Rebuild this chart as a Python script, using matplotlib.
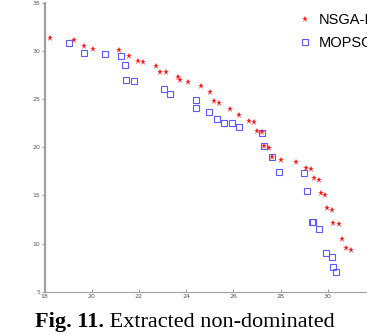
"""Extracted non-dominated fronts: NSGA-II vs MOPSO (Fig. 11)."""
import matplotlib
matplotlib.use("Agg")
import matplotlib.pyplot as plt

# NSGA-II front (red stars)
nsga_x = [18.23, 19.25, 19.67, 20.04, 21.17, 21.57, 21.97, 22.19, 22.72, 22.91,
          23.14, 23.67, 23.73, 24.08, 24.63, 25.03, 25.19, 25.38, 25.87, 26.25,
          26.68, 26.88, 27.02, 27.22, 27.30, 27.50, 27.63, 28.03, 28.67, 29.08,
          29.28, 29.41, 29.62, 29.72, 29.90, 29.98, 30.18, 30.24, 30.47, 30.60,
          30.78, 30.97]
nsga_y = [31.35, 31.14, 30.58, 30.24, 30.17, 29.54, 28.99, 28.84, 28.47, 27.88,
          27.88, 27.36, 27.02, 26.76, 26.36, 25.72, 24.83, 24.66, 23.95, 23.36,
          22.78, 22.60, 21.75, 21.56, 20.16, 19.92, 19.01, 18.70, 18.49, 17.90,
          17.73, 16.80, 16.59, 15.30, 15.09, 13.68, 13.50, 12.12, 12.02, 10.51,
          9.52, 9.34]

# MOPSO front (blue squares)
mopso_x = [19.05, 19.69, 20.56, 21.22, 21.39, 21.47, 21.81, 23.06, 23.31, 24.41,
           24.42, 24.98, 25.32, 25.61, 25.93, 26.25, 27.22, 27.30, 27.63, 27.92,
           29.01, 29.11, 29.35, 29.38, 29.64, 29.94, 30.18, 30.21, 30.33]
mopso_y = [30.86, 29.85, 29.74, 29.51, 28.58, 27.02, 26.88, 26.05, 25.56, 24.94,
           24.05, 23.66, 22.91, 22.58, 22.58, 22.16, 21.54, 20.16, 19.01, 17.48,
           17.38, 15.46, 12.28, 12.20, 11.50, 9.06, 8.59, 7.55, 7.06]

x_ticks = [18, 20, 22, 24, 26, 28, 30]
y_ticks = [5, 10, 15, 20, 25, 30, 35]

fig = plt.figure(figsize=(3.67, 3.35), dpi=100)
# axes runs past the right edge, like the cropped original
ax = fig.add_axes([0.1213, 0.1293, 1.029, 0.8615])

ax.plot(mopso_x, mopso_y, "s", ms=4.5, mfc="none", mec="#5a5aff", mew=0.8,
        label="MOPSO", zorder=2)
ax.plot(nsga_x, nsga_y, "*", ms=4.8, color="#ff1a1a", mew=0, label="NSGA-II",
        zorder=3)

ax.set_xlim(18, 34)
ax.set_ylim(5, 35)
ax.set_xticks(x_ticks)
ax.set_yticks(y_ticks)
for s in ("top", "right"):
    ax.spines[s].set_visible(False)
ax.spines["left"].set_linewidth(1.6)
ax.spines["left"].set_color("#a0a0a0")
ax.spines["bottom"].set_linewidth(0.8)
ax.spines["bottom"].set_color("#a0a0a0")
ax.tick_params(axis="y", direction="out", length=2, width=0.6, colors="#888888",
               labelsize=4.5, labelcolor="#555555", pad=1)
ax.tick_params(axis="x", direction="in", length=2.5, width=0.6, colors="#888888",
               labelsize=4.5, labelcolor="#555555", pad=1.5)

h, l = ax.get_legend_handles_labels()
leg = ax.legend(h[::-1], l[::-1], loc="upper left", bbox_to_anchor=(0.778, 1.0),
                bbox_transform=fig.transFigure, frameon=False,
                handlelength=0.9, handletextpad=0.45, labelspacing=0.6,
                prop={"family": "Liberation Sans", "size": 10.5})

t1 = fig.text(0.095, 0.025, "Fig. 11.", fontsize=16, fontweight="bold",
              family="Liberation Serif", va="baseline")
ax.annotate(" Extracted non-dominated", xy=(1, 0), xycoords=t1, fontsize=16,
            family="Liberation Serif", va="bottom", annotation_clip=False)

fig.savefig("out.png", dpi=100)
